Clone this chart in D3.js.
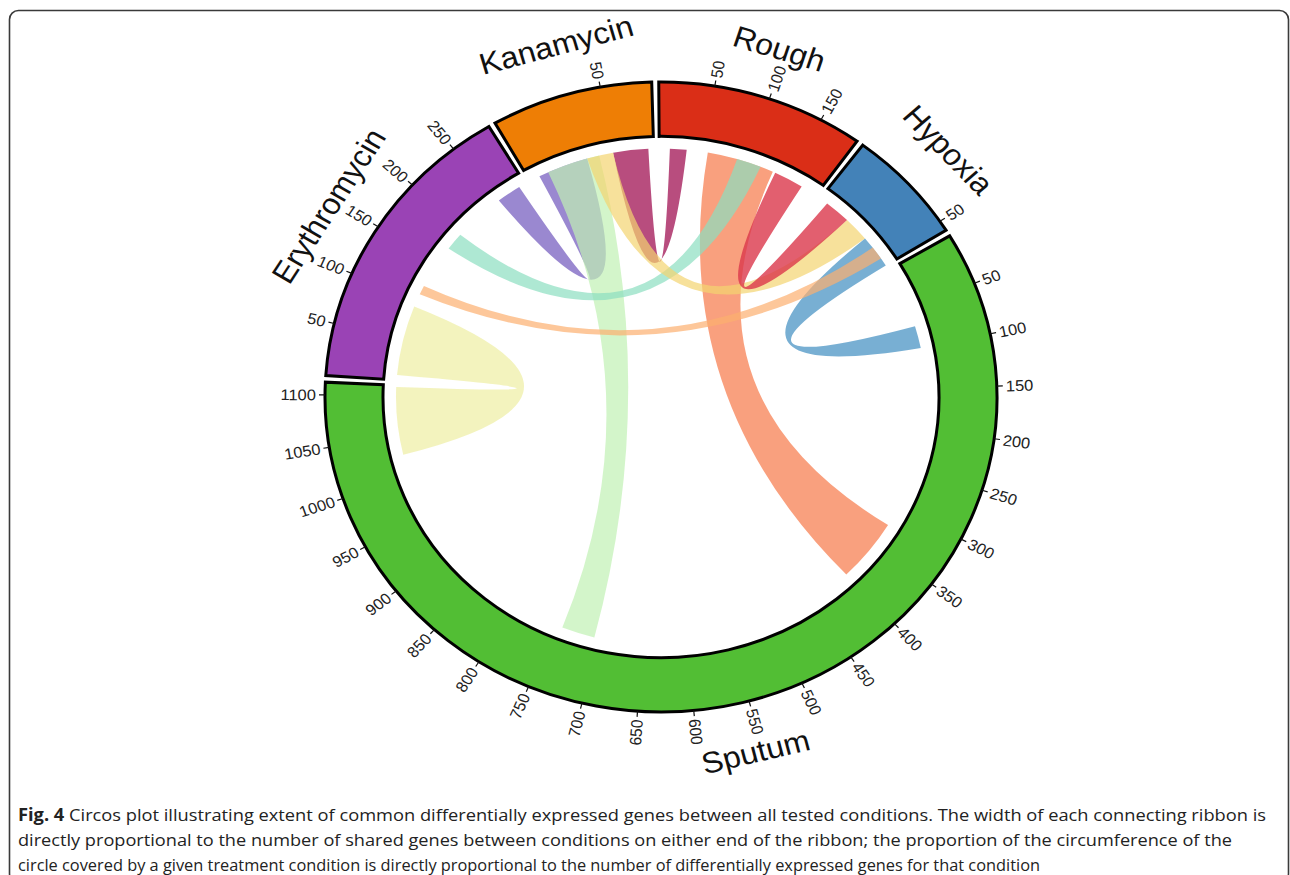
<!DOCTYPE html>
<html>
<head>
<meta charset="utf-8">
<script src="https://cdn.jsdelivr.net/npm/d3@7"></script>
<style>
  html, body { margin: 0; padding: 0; background: #fff; }
  svg { display: block; }
</style>
</head>
<body>
<svg id="chart" width="1290" height="875"></svg>
<script>
// Conditions placed clockwise around the circle, starting on the left
const sectorNames  = ["Erythromycin", "Kanamycin", "Rough", "Hypoxia", "Sputum"];
const sectorGenes  = [288, 73, 188, 55, 1112];
const sectorZoom   = [1, 2, 1, 2, 1];          // small sets are drawn at double width
const sectorColors = ["#9A43B5", "#EE7E05", "#DA2E17", "#4382B8", "#52BE34"];
const tickStep = 50;

// Shared-gene ribbons; each end is [sector index, first gene, last gene]
const linkSource = [
  [0, 6, 91], [0, 252, 280], [1, 11.5, 42], [2, 55, 132], [1, 50, 70],
  [0, 171, 192], [1, 35, 50], [2, 135, 169], [3, 35, 55], [0, 107, 118]
];
const linkTarget = [
  [4, 1028, 1110], [1, 6, 35], [4, 705, 743], [4, 322, 398], [2, 12, 31],
  [2, 89, 117], [3, 20, 35], [3, 5, 20], [4, 74, 101], [3, 42, 50]
];
const linkColors = [
  "#EEEEA2", "#6F56BC", "#C0F1B3", "#F67747", "#A6205E",
  "#8BDEC0", "#F4D470", "#DB374B", "#3E8DC0", "#FCAF6F"
];
const linkOpacity = [0.7, 0.7, 0.7, 0.7, 0.8, 0.7, 0.7, 0.8, 0.7, 0.7];

const captionBold = "Fig. 4";
const captionLines = [
  " Circos plot illustrating extent of common differentially expressed genes between all tested conditions. The width of each connecting ribbon is",
  "directly proportional to the number of shared genes between conditions on either end of the ribbon; the proportion of the circumference of the",
  "circle covered by a given treatment condition is directly proportional to the number of differentially expressed genes for that condition"
];
const captionWidths = [1248, 1214, 1022];

// ---- layout ----
const svg = d3.select("#chart");
const cx = 661, cy = 397, squash = 0.9375;
const rIn = 278, rOut = 336, rLink = 265, tickLen = 6, tickLabelR = 345, nameR = 390;
const gapDeg = 1.2, startDeg = 273.9;
const bend = 24;   // control point lift for ribbons whose ends sit close together
const rad = d => d * Math.PI / 180;
const deg = r => ((r * 180 / Math.PI) % 360 + 360) % 360;

// frame
svg.append("rect")
  .attr("x", 9.5).attr("y", 10.5)
  .attr("width", 1279).attr("height", 872)
  .attr("rx", 9).attr("ry", 9)
  .attr("fill", "#fff").attr("stroke", "#3a3a3a").attr("stroke-width", 1.6);

const units = sectorGenes.map((g, i) => g * sectorZoom[i]);
const degPerUnit = (360 - gapDeg * sectorNames.length) / d3.sum(units);
let cursor = startDeg;
const sectors = sectorNames.map((name, i) => {
  const a0 = cursor, a1 = cursor + units[i] * degPerUnit;
  cursor = a1 + gapDeg;
  return {
    name, index: i,
    startAngle: rad(a0), endAngle: rad(a1),
    scale: d3.scaleLinear().domain([0, sectorGenes[i]]).range([rad(a0), rad(a1)])
  };
});

const g = svg.append("g")
  .attr("transform", `translate(${cx},${cy}) scale(1,${squash})`);

// ribbon path: arcs at both ends joined by quadratic curves bowing toward the centre
const polar = (a, r) => [r * Math.sin(a), -r * Math.cos(a)];
function control(a, b) {
  const sep = Math.acos(Math.max(-1, Math.min(1, Math.cos(a - b))));
  const c = bend * Math.pow(Math.cos(sep / 2), 2);
  const ux = Math.sin(a) + Math.sin(b), uy = -Math.cos(a) - Math.cos(b);
  const len = Math.hypot(ux, uy) || 1;
  return [c * ux / len, c * uy / len];
}
function ribbonPath(d) {
  const s = d.source, t = d.target, p = d3.path();
  const h = Math.PI / 2;
  p.moveTo(...polar(s.startAngle, rLink));
  p.arc(0, 0, rLink, s.startAngle - h, s.endAngle - h);
  p.quadraticCurveTo(...control(s.endAngle, t.startAngle), ...polar(t.startAngle, rLink));
  p.arc(0, 0, rLink, t.startAngle - h, t.endAngle - h);
  p.quadraticCurveTo(...control(t.endAngle, s.startAngle), ...polar(s.startAngle, rLink));
  p.closePath();
  return p.toString();
}
const endOf = e => ({
  startAngle: sectors[e[0]].scale(e[1]),
  endAngle: sectors[e[0]].scale(e[2])
});
g.append("g").selectAll("path")
  .data(linkSource.map((s, i) => ({ source: endOf(s), target: endOf(linkTarget[i]), i })))
  .join("path")
  .attr("d", ribbonPath)
  .attr("fill", d => linkColors[d.i])
  .attr("fill-opacity", d => linkOpacity[d.i])
  .attr("stroke", "none");

// sector blocks
const arc = d3.arc().innerRadius(rIn).outerRadius(rOut);
g.append("g").selectAll("path")
  .data(sectors)
  .join("path")
  .attr("d", arc)
  .attr("fill", d => sectorColors[d.index])
  .attr("stroke", "#000")
  .attr("stroke-width", 3)
  .attr("stroke-linejoin", "miter")
  .attr("vector-effect", "non-scaling-stroke");

// ticks and tick labels
const ticks = [];
sectors.forEach(s => {
  for (let v = tickStep; v <= sectorGenes[s.index]; v += tickStep) {
    ticks.push({ v, a: s.scale(v) });
  }
});
const tg = g.append("g").selectAll("g")
  .data(ticks)
  .join("g")
  .attr("transform", d => `rotate(${deg(d.a) - 90})`);
tg.append("line")
  .attr("x1", rOut).attr("x2", rOut + tickLen)
  .attr("stroke", "#111").attr("stroke-width", 1.2)
  .attr("vector-effect", "non-scaling-stroke");
tg.append("text")
  .attr("transform", d => deg(d.a) > 180
    ? `translate(${tickLabelR},0) rotate(180)`
    : `translate(${tickLabelR},0)`)
  .attr("text-anchor", d => deg(d.a) > 180 ? "end" : "start")
  .attr("dy", "0.36em")
  .attr("font-family", "Liberation Sans, Arial, sans-serif")
  .attr("font-size", 16.5)
  .attr("fill", "#222")
  .text(d => d.v);

// condition names
g.append("g").selectAll("text")
  .data(sectors)
  .join("text")
  .attr("transform", d => {
    const a = (d.startAngle + d.endAngle) / 2;
    const [x, y] = polar(a, nameR);
    const ad = deg(a);
    const rot = (ad > 90 && ad < 270) ? ad - 180 : (ad > 180 ? ad - 360 : ad);
    return `translate(${x},${y}) rotate(${rot})`;
  })
  .attr("text-anchor", "middle")
  .attr("dy", "0.35em")
  .attr("font-family", "Liberation Sans, Arial, sans-serif")
  .attr("font-size", 32)
  .attr("fill", "#111")
  .text(d => d.name);

// caption
const cap = svg.append("g")
  .attr("font-family", "Open Sans, Noto Sans, sans-serif")
  .attr("font-size", 17)
  .attr("fill", "#222");
captionLines.forEach((line, i) => {
  const t = cap.append("text")
    .attr("x", 18)
    .attr("y", 821 + i * 25)
    .attr("textLength", captionWidths[i])
    .attr("lengthAdjust", "spacingAndGlyphs");
  if (i === 0) t.append("tspan").attr("font-weight", "bold").text(captionBold);
  t.append("tspan").text(line);
});
</script>
</body>
</html>
